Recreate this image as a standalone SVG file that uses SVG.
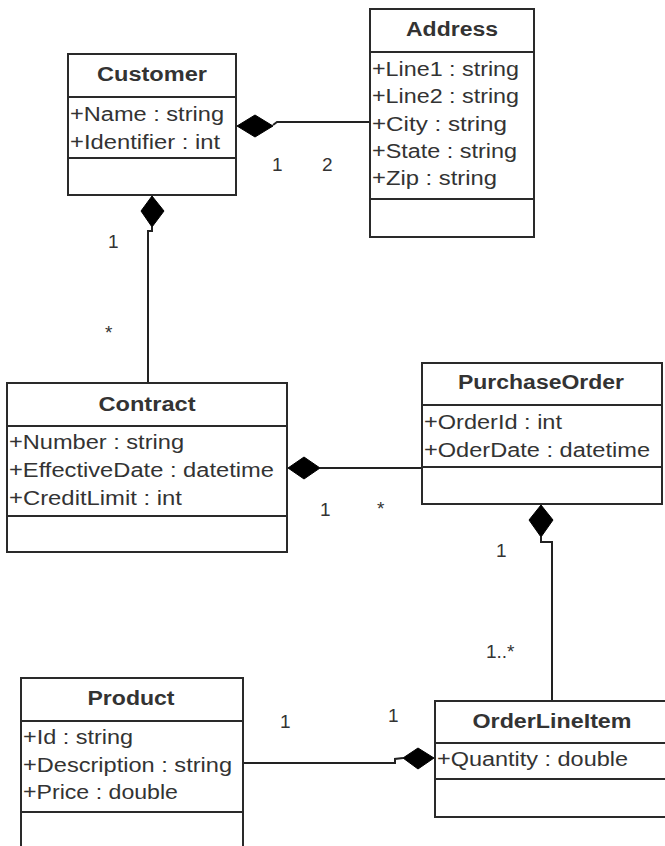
<svg xmlns="http://www.w3.org/2000/svg" width="665" height="846" viewBox="0 0 665 846">
<style>
.box{fill:#fff;stroke:#2a2a2a;stroke-width:2}
.sep{stroke:#2a2a2a;stroke-width:2}
.hdr{font-family:"Liberation Sans",Arial,sans-serif;font-weight:bold;font-size:20px;fill:#333;text-anchor:middle}
.att{font-family:"Liberation Sans",Arial,sans-serif;font-size:20px;fill:#333}
.lbl{font-family:"Liberation Sans",Arial,sans-serif;font-size:19px;fill:#333}
.ln{fill:none;stroke:#222;stroke-width:2}
.dia{fill:#000;stroke:#000;stroke-width:1}
</style>
<rect width="665" height="846" fill="#fff"/>
<g id="connectors">
  <path class="ln" d="M273,125 L277,122 L370,122"/>
  <polygon class="dia" points="237,126 255,115 273,126 255,137"/>
  <path class="ln" d="M152,227 L152,231 L148,231 L148,383"/>
  <polygon class="dia" points="152,196 164,211 152,227 141,211"/>
  <path class="ln" d="M320,468 L422,468"/>
  <polygon class="dia" points="288,468 304,457 320,468 304,479"/>
  <path class="ln" d="M541,537 L541,542 L552,542 L552,701"/>
  <polygon class="dia" points="541,505 553,520 541,537 529,520"/>
  <path class="ln" d="M243,763 L395,763 L395,759 L403,758"/>
  <polygon class="dia" points="403,758 418,748 434,758 418,769"/>
  <text class="lbl" x="272" y="171">1</text>
  <text class="lbl" x="322" y="171">2</text>
  <text class="lbl" x="108" y="248">1</text>
  <text class="lbl" x="105" y="339">*</text>
  <text class="lbl" x="320" y="516">1</text>
  <text class="lbl" x="377" y="515">*</text>
  <text class="lbl" x="496" y="557">1</text>
  <text class="lbl" x="486" y="658">1..*</text>
  <text class="lbl" x="280" y="728">1</text>
  <text class="lbl" x="388" y="722">1</text>
</g>
<g id="Customer">
  <rect class="box" x="68" y="54" width="168" height="141"/>
  <line class="sep" x1="68" y1="97" x2="236" y2="97"/>
  <line class="sep" x1="68" y1="158" x2="236" y2="158"/>
  <text class="hdr" x="152" y="81" textLength="110" lengthAdjust="spacingAndGlyphs">Customer</text>
  <text class="att" x="70" y="121" textLength="154" lengthAdjust="spacingAndGlyphs">+Name : string</text>
  <text class="att" x="70" y="149" textLength="150" lengthAdjust="spacingAndGlyphs">+Identifier : int</text>
</g>
<g id="Address">
  <rect class="box" x="370" y="9" width="164" height="228"/>
  <line class="sep" x1="370" y1="52" x2="534" y2="52"/>
  <line class="sep" x1="370" y1="199" x2="534" y2="199"/>
  <text class="hdr" x="452" y="36" textLength="92" lengthAdjust="spacingAndGlyphs">Address</text>
  <text class="att" x="372" y="76" textLength="147" lengthAdjust="spacingAndGlyphs">+Line1 : string</text>
  <text class="att" x="372" y="103" textLength="147" lengthAdjust="spacingAndGlyphs">+Line2 : string</text>
  <text class="att" x="372" y="131" textLength="135" lengthAdjust="spacingAndGlyphs">+City : string</text>
  <text class="att" x="372" y="158" textLength="145" lengthAdjust="spacingAndGlyphs">+State : string</text>
  <text class="att" x="372" y="185" textLength="125" lengthAdjust="spacingAndGlyphs">+Zip : string</text>
</g>
<g id="Contract">
  <rect class="box" x="7" y="383" width="280" height="169"/>
  <line class="sep" x1="7" y1="426" x2="287" y2="426"/>
  <line class="sep" x1="7" y1="516" x2="287" y2="516"/>
  <text class="hdr" x="147" y="411" textLength="97" lengthAdjust="spacingAndGlyphs">Contract</text>
  <text class="att" x="9" y="449" textLength="175" lengthAdjust="spacingAndGlyphs">+Number : string</text>
  <text class="att" x="9" y="477" textLength="265" lengthAdjust="spacingAndGlyphs">+EffectiveDate : datetime</text>
  <text class="att" x="9" y="505" textLength="173" lengthAdjust="spacingAndGlyphs">+CreditLimit : int</text>
</g>
<g id="PurchaseOrder">
  <rect class="box" x="422" y="363" width="240" height="141"/>
  <line class="sep" x1="422" y1="405" x2="662" y2="405"/>
  <line class="sep" x1="422" y1="467" x2="662" y2="467"/>
  <text class="hdr" x="541" y="389" textLength="166" lengthAdjust="spacingAndGlyphs">PurchaseOrder</text>
  <text class="att" x="424" y="429" textLength="138" lengthAdjust="spacingAndGlyphs">+OrderId : int</text>
  <text class="att" x="424" y="457" textLength="226" lengthAdjust="spacingAndGlyphs">+OderDate : datetime</text>
</g>
<g id="Product">
  <rect class="box" x="21" y="678" width="222" height="190"/>
  <line class="sep" x1="21" y1="721" x2="243" y2="721"/>
  <line class="sep" x1="21" y1="812" x2="243" y2="812"/>
  <text class="hdr" x="131" y="705" textLength="87" lengthAdjust="spacingAndGlyphs">Product</text>
  <text class="att" x="23" y="744" textLength="110" lengthAdjust="spacingAndGlyphs">+Id : string</text>
  <text class="att" x="23" y="772" textLength="209" lengthAdjust="spacingAndGlyphs">+Description : string</text>
  <text class="att" x="23" y="799" textLength="155" lengthAdjust="spacingAndGlyphs">+Price : double</text>
</g>
<g id="OrderLineItem">
  <rect class="box" x="435" y="701" width="236" height="116"/>
  <line class="sep" x1="435" y1="743" x2="671" y2="743"/>
  <line class="sep" x1="435" y1="779" x2="671" y2="779"/>
  <text class="hdr" x="552" y="728" textLength="159" lengthAdjust="spacingAndGlyphs">OrderLineItem</text>
  <text class="att" x="437" y="766" textLength="191" lengthAdjust="spacingAndGlyphs">+Quantity : double</text>
</g>
</svg>
